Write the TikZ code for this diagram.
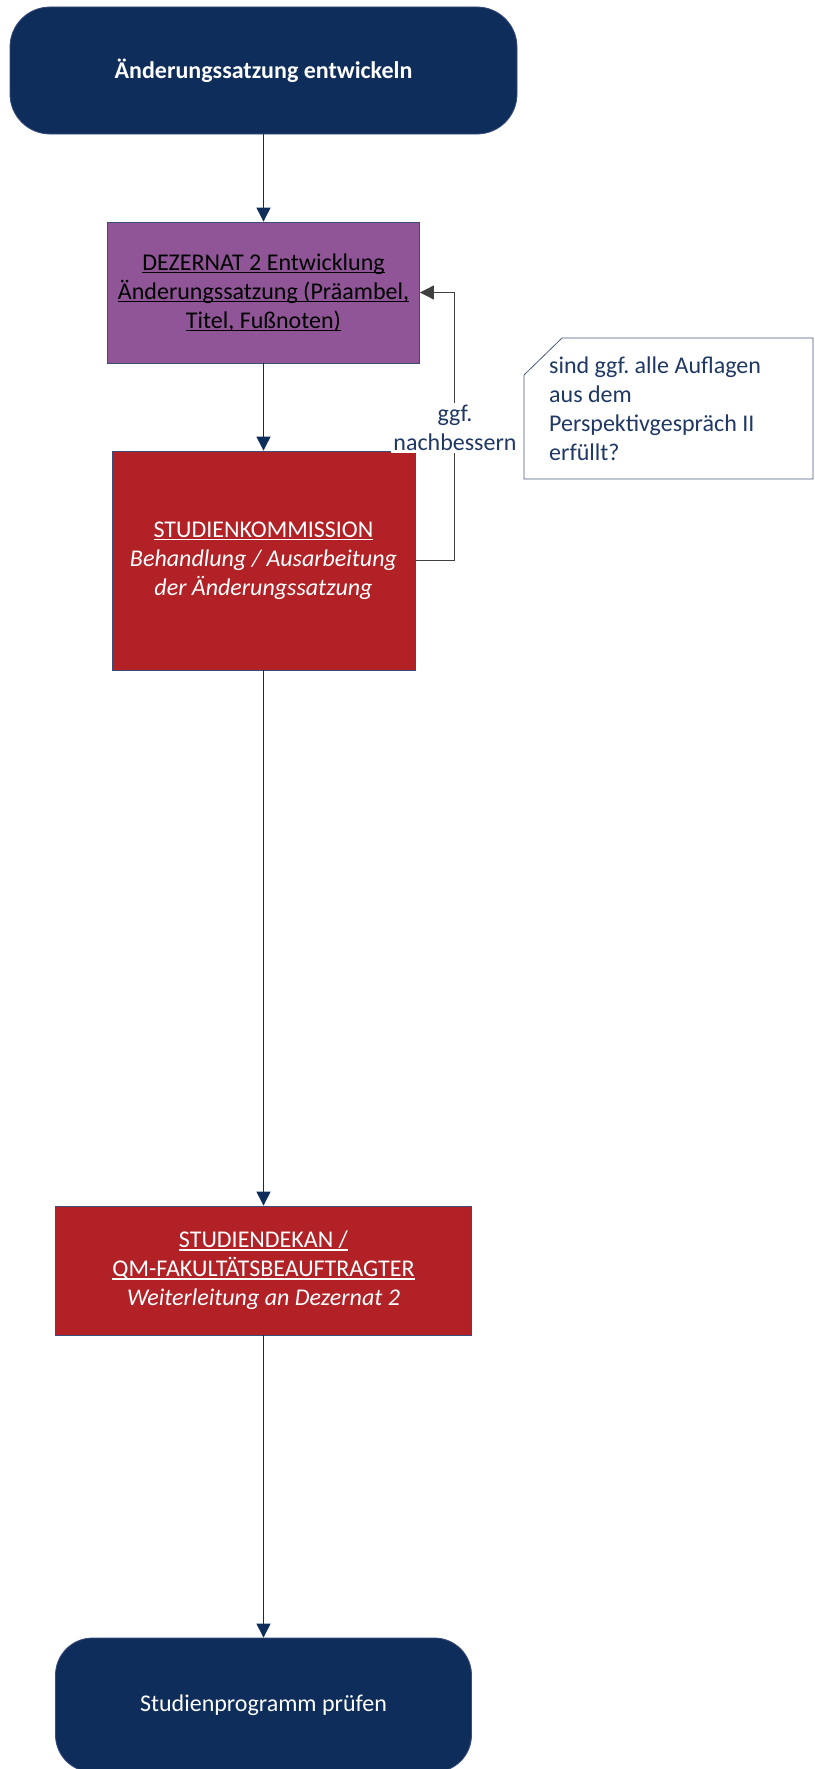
\documentclass[tikz,border=0pt]{standalone}
\usepackage{fontspec}
\setmainfont{Carlito}
\usetikzlibrary{arrows.meta}
\definecolor{navy}{HTML}{0F2D5A}
\definecolor{purp}{HTML}{8F5597}
\definecolor{dred}{HTML}{B22126}
\definecolor{edgecol}{HTML}{3A4D7A}
\definecolor{notetext}{HTML}{1F3864}
\definecolor{noteedge}{HTML}{4A5A80}
\newsavebox\ulbox
\newcommand\myul[1]{\sbox\ulbox{#1}\rlap{\rule[-3pt]{\wd\ulbox}{1.3pt}}\usebox\ulbox}
\frenchspacing
\begin{document}
\begin{tikzpicture}[x=1pt,y=-1pt, font=\fontsize{24}{29}\selectfont,
 box/.style={draw=edgecol, line width=0.8pt, inner sep=0pt, align=center},
 term/.style={box, fill=navy, rounded corners=40pt, text=white},
 purplebox/.style={box, fill=purp, text=black},
 redbox/.style={box, fill=dred, text=white},
 flow/.style={draw=navy, line width=0.9pt, -{Triangle[width=14pt,length=14pt]}},
 back/.style={draw=black!75, line width=0.9pt, -{Triangle[width=14pt,length=14pt]}}]
\useasboundingbox (0,0) rectangle (814,1769);
\node[term, minimum width=507pt, minimum height=127pt] (start) at (263.5,70.5) {\bfseries Änderungssatzung entwickeln};
\node[purplebox, minimum width=312pt, minimum height=141pt] (dez) at (263.5,292.5) {\myul{DEZERNAT 2 Entwicklung}\\ \myul{Änderungssatzung (Präambel,}\\ \myul{Titel, Fußnoten)}};
\node[redbox, minimum width=303pt, minimum height=219pt] (sk) at (263.5,560.5) {\myul{STUDIENKOMMISSION}\\ \textit{Behandlung / Ausarbeitung}\\ \textit{der Änderungssatzung}};
\node[redbox, minimum width=416pt, minimum height=129pt] (dekan) at (263.5,1270.5) {\myul{STUDIENDEKAN /}\\ \myul{QM-FAKULTÄTSBEAUFTRAGTER}\\ \textit{Weiterleitung an Dezernat 2}};
\node[term, minimum width=416pt, minimum height=134pt, rounded corners=37pt] (end) at (263.5,1705) {Studienprogramm prüfen};
\draw[flow] (start) -- (dez);
\draw[flow] (dez) -- (sk);
\draw[flow] (sk) -- (dekan);
\draw[flow] (dekan) -- (end);
\draw[back] (sk.east) -- ++(39,0) |- (dez.east);
\node[fill=white, inner sep=2pt, align=center, text=notetext] (lbl) at (455,428) {ggf.\\nachbessern};
\draw[draw=noteedge, fill=white, line width=0.8pt] (524,375) -- (562,338) -- (813,338) -- (813,479) -- (524,479) -- cycle;
\node[anchor=north west, align=left, inner sep=0pt, text=notetext] (note) at (549,357) {sind ggf. alle Auflagen\\aus dem\\Perspektivgespräch II\\erfüllt?};
\end{tikzpicture}
\end{document}
